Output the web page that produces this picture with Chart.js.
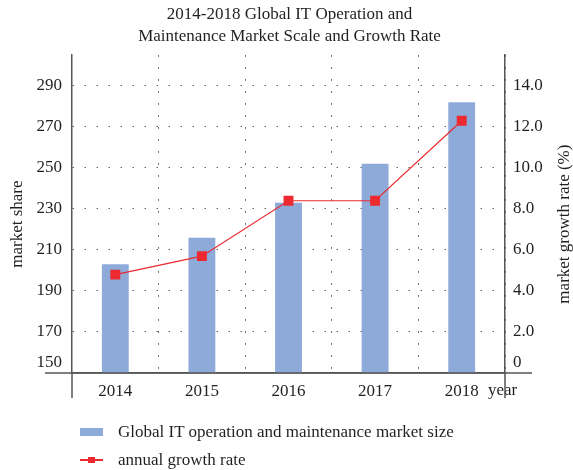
<!DOCTYPE html>
<html>
<head>
<meta charset="utf-8">
<script src="https://cdn.jsdelivr.net/npm/chart.js@4.4.1/dist/chart.umd.min.js"></script>
<style>
  body { margin: 0; background: #fff; }
  #wrap { position: relative; width: 573px; height: 470px; }
  .legend { position: absolute; left: 80px; top: 418px; font: 17px "Liberation Serif", serif; color: #231f20; }
  .legend .item { display: flex; align-items: center; height: 28px; }
  .legend .swatch { position: relative; width: 23px; height: 8px; margin-right: 15px; }
</style>
</head>
<body>
<div id="wrap">
  <canvas id="chart"></canvas>
  <div class="legend" id="legend"></div>
</div>
<script>
const years = ['2014', '2015', '2016', '2017', '2018'];
const marketSize = [203, 216, 233, 252, 282];
const growthRate = [4.8, 5.7, 8.4, 8.4, 12.3];
const leftTicks = [150, 170, 190, 210, 230, 250, 270, 290];
const rightTicks = [0, 2, 4, 6, 8, 10, 12, 14];
const seriesNames = ['Global IT operation and maintenance market size', 'annual growth rate'];
const titleLines = ['2014-2018 Global IT Operation and', 'Maintenance Market Scale and Growth Rate'];

const FONT = '"Liberation Serif", "DejaVu Serif", serif';
const TEXT = '#231f20';
const AXIS = '#555';
const BAR = '#8eaad8';
const RED = '#ec2a2f';

// axis lines running past the plot corners, axis titles and the "year" label
const axisExtras = {
  id: 'axisExtras',
  afterDraw(chart) {
    const { ctx, chartArea: a } = chart;
    const midY = (a.top + a.bottom) / 2 + 10;
    ctx.save();
    ctx.fillStyle = TEXT;
    ctx.font = '17px ' + FONT;
    ctx.textBaseline = 'middle';
    ctx.textAlign = 'left';
    ctx.fillText('year', a.right - 17, a.bottom + 18);
    ctx.textAlign = 'center';
    [['market share', 18], ['market growth rate (%)', 565]].forEach(([t, x]) => {
      ctx.save();
      ctx.translate(x, midY);
      ctx.rotate(-Math.PI / 2);
      ctx.fillText(t, 0, 0);
      ctx.restore();
    });
    ctx.strokeStyle = AXIS;
    ctx.lineWidth = 1.5;
    ctx.beginPath();
    ctx.moveTo(a.left, a.bottom); ctx.lineTo(a.left, a.bottom + 25);
    ctx.moveTo(a.right, a.bottom); ctx.lineTo(a.right, a.bottom + 25);
    ctx.moveTo(a.left - 27, a.bottom); ctx.lineTo(a.right + 27, a.bottom);
    ctx.stroke();
    ctx.restore();
  }
};

new Chart(document.getElementById('chart'), {
  data: {
    labels: years,
    datasets: [
      {
        type: 'bar',
        label: seriesNames[0],
        data: marketSize,
        backgroundColor: BAR,
        borderWidth: 0,
        barPercentage: 0.31,
        categoryPercentage: 1,
        yAxisID: 'y',
        order: 2,
      },
      {
        type: 'line',
        label: seriesNames[1],
        data: growthRate,
        borderColor: RED,
        backgroundColor: RED,
        borderWidth: 1.2,
        pointStyle: 'rect',
        pointRadius: 7,
        pointBorderWidth: 0,
        yAxisID: 'y1',
        order: 1,
      },
    ],
  },
  options: {
    responsive: true,
    maintainAspectRatio: false,
    animation: false,
    layout: { padding: { left: 6 } },
    plugins: {
      legend: { display: false },
      tooltip: { enabled: false },
      title: {
        display: true,
        text: titleLines,
        color: TEXT,
        font: { family: FONT, size: 17, weight: 'normal', lineHeight: 1.3 },
        padding: { top: 3, bottom: 8 },
      },
    },
    scales: {
      x: {
        offset: true,
        afterFit: (axis) => { axis.height = 97; },
        grid: {
          offset: true,
          drawTicks: false,
          color: (c) => (c.index === 0 || c.index === years.length ? 'rgba(0,0,0,0)' : '#444'),
        },
        border: { color: AXIS, width: 1.5, dash: [1.5, 10.5] },
        ticks: { color: TEXT, font: { family: FONT, size: 17 }, padding: 8 },
      },
      y: {
        position: 'left',
        min: 150,
        max: 305,
        afterFit: (axis) => { axis.width = 66; },
        afterBuildTicks: (axis) => { axis.ticks = leftTicks.map((value) => ({ value })); },
        grid: {
          drawTicks: false,
          color: (c) => (c.tick && c.tick.value === 150 ? 'rgba(0,0,0,0)' : '#666'),
        },
        border: { color: AXIS, width: 1.5, dash: [1.5, 10.5] },
        ticks: {
          color: TEXT,
          font: { family: FONT, size: 17 },
          padding: 10,
          callback: (v) => (v === 150 ? ['150', ''] : String(v)),
        },
      },
      y1: {
        position: 'right',
        min: 0,
        max: 15.5,
        afterFit: (axis) => { axis.width = 68; },
        afterBuildTicks: (axis) => { axis.ticks = rightTicks.map((value) => ({ value })); },
        grid: { display: false, drawTicks: false },
        border: { color: AXIS, width: 1.5 },
        ticks: {
          color: TEXT,
          font: { family: FONT, size: 17 },
          padding: 8,
          callback: (v) => (v === 0 ? ['0', ''] : v.toFixed(1)),
        },
      },
    },
  },
  plugins: [axisExtras],
});

// legend below the plot
const legend = document.getElementById('legend');
seriesNames.forEach((name, i) => {
  const item = document.createElement('div');
  item.className = 'item';
  const sw = document.createElement('span');
  sw.className = 'swatch';
  if (i === 0) {
    sw.style.background = BAR;
  } else {
    sw.innerHTML = '<span style="position:absolute;left:0;top:3px;width:23px;height:1.5px;background:' + RED +
      '"></span><span style="position:absolute;left:8px;top:1px;width:7px;height:6px;background:' + RED + '"></span>';
  }
  item.appendChild(sw);
  item.appendChild(document.createTextNode(name));
  legend.appendChild(item);
});
</script>
</body>
</html>
